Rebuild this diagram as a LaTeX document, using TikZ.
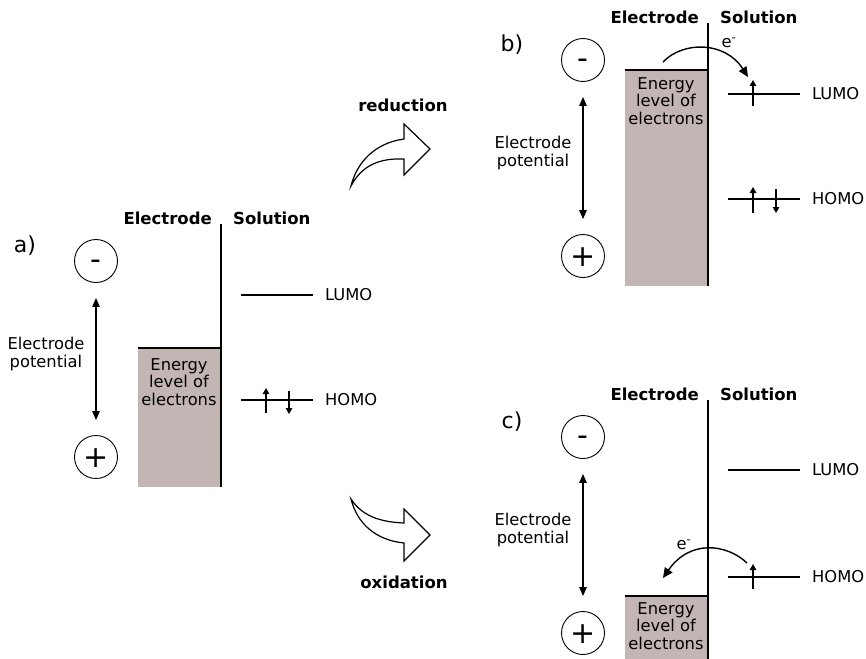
\documentclass[tikz,border=0pt]{standalone}
\usepackage{fontspec}
\setmainfont{DejaVu Sans}
\usetikzlibrary{arrows.meta}
\definecolor{elec}{RGB}{196,181,181}
\tikzset{
 txt/.style={font=\fontsize{16.3}{17.5}\selectfont, inner sep=0pt, align=center},
 hdr/.style={font=\fontsize{16.5}{18}\selectfont\bfseries, inner sep=0pt},
 plbl/.style={font=\fontsize{22}{24}\selectfont, inner sep=0pt},
 sign/.style={circle, draw, line width=0.9pt, minimum size=43pt, inner sep=0pt, font=\fontsize{30}{30}\selectfont, text depth=0pt},
 minussign/.style={sign, text height=16.6pt},
 plussign/.style={sign, text height=21.4pt},
 dbl/.style={{Triangle[length=9pt,width=7.5pt]}-{Triangle[length=9pt,width=7.5pt]}, line width=1.2pt, shorten <=15pt, shorten >=15pt},
 spin/.style={-{Triangle[length=6pt,width=6.5pt]}, line width=1.2pt},
 lev/.style={line width=1.3pt},
 iface/.style={line width=1.4pt},
 etr/.style={-{Triangle[length=10pt,width=9pt]}, line width=1.4pt},
 blockarrow/.style={draw, line width=1.2pt, fill=white, line join=miter},
 ebox/.style={fill=elec, draw=none, inner sep=0pt, minimum width=83pt, anchor=north west},
}
\begin{document}
\begin{tikzpicture}[x=1pt,y=-1pt]
\useasboundingbox (0,0) rectangle (866,658);
\clip (0,0) rectangle (866,658);

% ---------- panel a ----------
\begin{scope}
\node[plbl] (la) at (25,246) {a)};
\node[minussign] (amn) at (96,261) {-};
\node[plussign] (apl) at (96,457) {+};
\draw[dbl] (amn) -- (apl);
\node[txt] (apot) at (46,354) {Electrode\\potential};
\node[ebox, minimum height=139pt] (abox) at (138,348) {};
\draw[lev] (abox.north west) -- (abox.north east);
\node[txt] (aen) at (179,382) {Energy\\level of\\electrons};
\coordinate (atop) at (221,224);
\coordinate (abot) at (221,487);
\draw[iface] (atop) -- (abot);
\node[hdr, anchor=east] (ahe) at (212,218.5) {Electrode};
\node[hdr, anchor=west] (ahs) at (233,218.5) {Solution};
\coordinate (aLl) at (241,295); \coordinate (aLr) at (313,295);
\draw[lev] (aLl) -- (aLr);
\node[txt, anchor=west] (aL) at (325,295) {LUMO};
\coordinate (aHl) at (241,400); \coordinate (aHr) at (313,400);
\draw[lev] (aHl) -- (aHr);
\node[txt, anchor=west] (aH) at (325,400) {HOMO};
\coordinate (au0) at (266,413); \coordinate (au1) at (266,388);
\draw[spin] (au0) -- (au1);
\coordinate (ad0) at (289,391); \coordinate (ad1) at (289,414);
\draw[spin] (ad0) -- (ad1);
\end{scope}

% ---------- reduction / oxidation ----------
\node[hdr] (red) at (403,105) {reduction};
\draw[blockarrow] (351,186) .. controls (357,162) and (375,143) .. (404,139) -- (404,124) -- (430,149) -- (404,175) -- (404,159) .. controls (380,158) and (362,165) .. (351,186) -- cycle;
\node[hdr] (oxi) at (404,582) {oxidation};
\draw[blockarrow] (351,499) .. controls (357,523) and (375,540) .. (404,543) -- (404,561) -- (430,535) -- (404,509) -- (404,523) .. controls (380,522) and (362,516) .. (351,499) -- cycle;

% ---------- panel b ----------
\begin{scope}[shift={(487,-201)}]
\node[plbl] (lb) at (25,246) {b)};
\node[minussign] (bmn) at (96,261) {-};
\node[plussign] (bpl) at (96,457) {+};
\draw[dbl] (bmn) -- (bpl);
\node[txt] (bpot) at (46,354) {Electrode\\potential};
\node[ebox, minimum height=216pt] (bbox) at (138,271) {};
\draw[lev] (bbox.north west) -- (bbox.north east);
\node[txt] (ben) at (179,302) {Energy\\level of\\electrons};
\coordinate (btop) at (221,224);
\coordinate (bbot) at (221,487);
\draw[iface] (btop) -- (bbot);
\node[hdr, anchor=east] (bhe) at (212,218.5) {Electrode};
\node[hdr, anchor=west] (bhs) at (233,218.5) {Solution};
\coordinate (bLl) at (241,295); \coordinate (bLr) at (313,295);
\draw[lev] (bLl) -- (bLr);
\node[txt, anchor=west] (bL) at (325,295) {LUMO};
\coordinate (bHl) at (241,400); \coordinate (bHr) at (313,400);
\draw[lev] (bHl) -- (bHr);
\node[txt, anchor=west] (bH) at (325,400) {HOMO};
\coordinate (bLu0) at (266,307); \coordinate (bLu1) at (266,281);
\draw[spin] (bLu0) -- (bLu1);
\coordinate (bu0) at (266,414); \coordinate (bu1) at (266,388);
\draw[spin] (bu0) -- (bu1);
\coordinate (bd0) at (289,390); \coordinate (bd1) at (289,414);
\draw[spin] (bd0) -- (bd1);
\coordinate (be0) at (176,263); \coordinate (be1) at (261,278);
\draw[etr] (be0) .. controls (196,242) and (238,242) .. (be1);
\node[txt] (bel) at (242,244) {e\textsuperscript{-}};
\end{scope}

% ---------- panel c ----------
\begin{scope}[shift={(487,176)}]
\node[plbl] (lc) at (25,246) {c)};
\node[minussign] (cmn) at (96,261) {-};
\node[plussign] (cpl) at (96,457) {+};
\draw[dbl] (cmn) -- (cpl);
\node[txt] (cpot) at (46,354) {Electrode\\potential};
\node[ebox, minimum height=80pt] (cbox) at (138,420) {};
\draw[lev] (cbox.north west) -- (cbox.north east);
\node[txt] (cen) at (179,450) {Energy\\level of\\electrons};
\coordinate (ctop) at (221,224);
\coordinate (cbot) at (221,500);
\draw[iface] (ctop) -- (cbot);
\node[hdr, anchor=east] (che) at (212,218.5) {Electrode};
\node[hdr, anchor=west] (chs) at (233,218.5) {Solution};
\coordinate (cLl) at (241,294); \coordinate (cLr) at (313,294);
\draw[lev] (cLl) -- (cLr);
\node[txt, anchor=west] (cL) at (325,294) {LUMO};
\coordinate (cHl) at (241,401); \coordinate (cHr) at (313,401);
\draw[lev] (cHl) -- (cHr);
\node[txt, anchor=west] (cH) at (325,401) {HOMO};
\coordinate (cu0) at (266,413); \coordinate (cu1) at (266,388);
\draw[spin] (cu0) -- (cu1);
\coordinate (ce0) at (260,387); \coordinate (ce1) at (176,402);
\draw[etr] (ce0) .. controls (240,368) and (203,363) .. (ce1);
\node[txt] (cel) at (197,369) {e\textsuperscript{-}};
\end{scope}
\end{tikzpicture}
\end{document}
